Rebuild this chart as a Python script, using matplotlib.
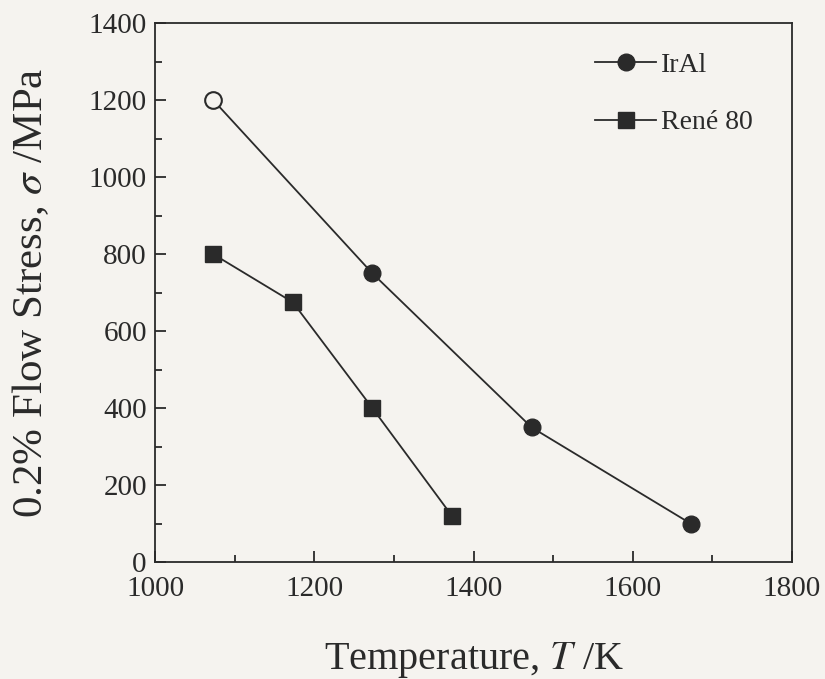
import matplotlib
matplotlib.use("Agg")
import matplotlib.pyplot as plt
from matplotlib.ticker import MultipleLocator

plt.rcParams['font.family'] = ['Liberation Serif', 'DejaVu Serif']
plt.rcParams['mathtext.fontset'] = 'stix'

iral_T = [1073, 1273, 1473, 1673]
iral_s = [1200, 750, 350, 100]
rene_T = [1073, 1173, 1273, 1373]
rene_s = [800, 675, 400, 120]

bg = '#f5f3ef'
fig = plt.figure(figsize=(8.25, 6.79), dpi=100, facecolor=bg)
ax = fig.add_axes([0.188, 0.172, 0.772, 0.794], facecolor=bg)

c = '#2a2a2a'
ax.plot(iral_T, iral_s, '-', color=c, lw=1.3, zorder=2)
ax.plot(iral_T[1:], iral_s[1:], 'o', color=c, ms=12, zorder=3)
ax.plot(iral_T[:1], iral_s[:1], 'o', mfc=bg, mec=c, mew=1.5, ms=12, zorder=3)
ax.plot([], [], '-o', color=c, lw=1.3, ms=12, label='IrAl')
ax.plot(rene_T, rene_s, '-s', color=c, lw=1.3, ms=12, label='René 80', zorder=3)

ax.set_xlim(1000, 1800)
ax.set_ylim(0, 1400)
ax.xaxis.set_major_locator(MultipleLocator(200))
ax.xaxis.set_minor_locator(MultipleLocator(100))
ax.yaxis.set_major_locator(MultipleLocator(200))
ax.yaxis.set_minor_locator(MultipleLocator(100))
ax.tick_params(which='both', direction='in', top=False, right=False, width=1.3, colors=c, labelsize=21)
ax.tick_params(axis='x', pad=10)
ax.tick_params(axis='y', pad=6)
ax.tick_params(which='major', length=8)
ax.tick_params(which='minor', length=5)
for s in ax.spines.values():
    s.set_linewidth(1.3)
    s.set_color(c)

ax.set_xlabel('Temperature, $T$ /K', fontsize=29, color=c, labelpad=27)
ax.set_ylabel('0.2% Flow Stress, $\\sigma$ /MPa', fontsize=31, color=c, labelpad=27)

leg = ax.legend(loc='upper right', frameon=False, fontsize=20, handlelength=2.2,
                handletextpad=0.15, labelspacing=1.15, bbox_to_anchor=(0.977, 0.992))
for t in leg.get_texts():
    t.set_color(c)

fig.savefig('out.png', dpi=100, facecolor=bg)
